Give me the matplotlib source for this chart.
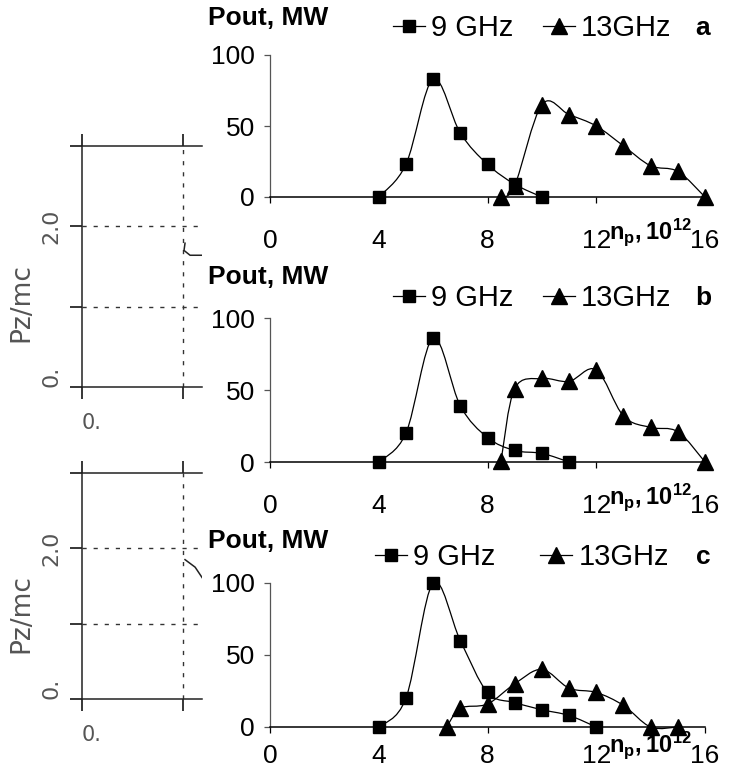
import numpy as np
import matplotlib.pyplot as plt
from matplotlib.path import Path
from matplotlib.patches import PathPatch

plt.rcParams['font.family'] = ['Liberation Sans', 'DejaVu Sans']
plt.rcParams['mathtext.fontset'] = 'custom'
plt.rcParams['mathtext.bf'] = 'Liberation Sans:bold'
plt.rcParams['mathtext.rm'] = 'Liberation Sans'

# output power vs plasma density, three cases
x9_a = [4, 5, 6, 7, 8, 9, 10]
y9_a = [0, 23, 83, 45, 23, 9, 0]
x13_a = [8.5, 9, 10, 11, 12, 13, 14, 15, 16]
y13_a = [0, 8, 65, 58, 50, 36, 22, 18, 0]

x9_b = [4, 5, 6, 7, 8, 9, 10, 11]
y9_b = [0, 20, 86, 39, 17, 8, 6, 0]
x13_b = [8.5, 9, 10, 11, 12, 13, 14, 15, 16]
y13_b = [1, 51, 58, 56, 64, 32, 24, 21, 0]

x9_c = [4, 5, 6, 7, 8, 9, 10, 11, 12]
y9_c = [0, 20, 100, 60, 24, 17, 12, 8, 0]
x13_c = [6.5, 7, 8, 9, 10, 11, 12, 13, 14, 15]
y13_c = [0, 13, 16, 30, 40, 27, 24, 15, 0, 0]

xticks = [0, 4, 8, 12, 16]
yticks = [0, 50, 100]

# clipped bits of the neighbouring Pz/mc plot on the left
frag1_x = [1.02, 1.01, 1.07, 1.19]
frag1_y = [1.79, 1.70, 1.64, 1.64]
frag2_x = [1.02, 1.12, 1.19]
frag2_y = [1.85, 1.75, 1.61]


def smooth(x, y):
    # Excel-like smoothed line as bezier path through the points
    p = np.column_stack([x, y]).astype(float)
    n = len(p)
    verts = [p[0]]
    codes = [Path.MOVETO]
    for i in range(n - 1):
        p0 = p[max(i - 1, 0)]
        p1 = p[i]
        p2 = p[i + 1]
        p3 = p[min(i + 2, n - 1)]
        verts += [p1 + (p2 - p0) / 6, p2 - (p3 - p1) / 6, p2]
        codes += [Path.CURVE4] * 3
    return Path(verts, codes)


fig = plt.figure(figsize=(7.52, 7.76), dpi=100)

# left fragments
for bottom, height, fx, fy, lab_y in [(1 - 387 / 776, 241 / 776, frag1_x, frag1_y, 0.35),
                                      (1 - 699 / 776, 226 / 776, frag2_x, frag2_y, 0.38)]:
    axl = fig.add_axes([82 / 752, bottom, 120 / 752, height])
    axl.set_xlim(0, 120 / 101)
    axl.set_ylim(0, 3)
    axl.spines['right'].set_visible(False)
    for s in ['left', 'top', 'bottom']:
        axl.spines[s].set_linewidth(1.1)
        axl.spines[s].set_color('#222222')
    axl.axhline(1, ls=(0, (3, 5)), lw=1, color='#333333')
    axl.axhline(2, ls=(0, (3, 5)), lw=1, color='#333333')
    axl.axvline(1, ls=(0, (3, 5)), lw=1, color='#333333')
    axl.plot(fx, fy, color='#222222', lw=1.1)
    axl.set_yticks([0, 1, 2, 3])
    axl.set_yticklabels(['0.', '', '2.0', ''], rotation=90,
                        fontsize=16, color='#555555', family='DejaVu Sans')
    for lab, va in zip(axl.get_yticklabels(), ['bottom', 'center', 'center', 'center']):
        lab.set_va(va)
    axl.set_xticks([0, 1])
    axl.set_xticklabels(['0.', ''], ha='left', fontsize=15, color='#555555',
                        family='DejaVu Sans')
    axl.tick_params(axis='y', direction='out', length=8.6, width=1.1, pad=6)
    axl.tick_params(axis='x', direction='out', length=8.6, width=1.1, pad=10,
                    top=True)
    axl.set_ylabel('Pz/mc', fontsize=19, color='#555555', family='DejaVu Sans',
                   labelpad=6)
    axl.yaxis.set_label_coords(-0.4, lab_y)

panels = [
    ('a', x9_a, y9_a, x13_a, y13_a, 1 - 197 / 776, 142 / 776, 19, 1.19, 0.283, 1.0, 1.26, -0.246),
    ('b', x9_b, y9_b, x13_b, y13_b, 1 - 462 / 776, 144 / 776, 19, 1.14, 0.283, 1.0, 1.285, -0.243),
    ('c', x9_c, y9_c, x13_c, y13_c, 1 - 727 / 776, 144 / 776, 8, 1.18, 0.241, 1.55, 1.29, -0.125),
]

for (letter, x9, y9, x13, y13, bottom, height, xpad, leg_y, leg_x, colsp,
     title_y, np_y) in panels:
    ax = fig.add_axes([270 / 752, bottom, 435 / 752, height])
    ax.set_xlim(0, 16)
    ax.set_ylim(0, 100)
    for s in ['top', 'right']:
        ax.spines[s].set_visible(False)
    ax.spines['left'].set_color('#555555')
    ax.spines['bottom'].set_color('black')
    ax.spines['left'].set_linewidth(0.9)
    ax.spines['bottom'].set_linewidth(1.1)

    ax.add_patch(PathPatch(smooth(x13, y13), fill=False, lw=0.9,
                           color='black', clip_on=False))
    ax.add_patch(PathPatch(smooth(x9, y9), fill=False, lw=0.9,
                           color='black', clip_on=False))
    ax.plot(x13, y13, ls='none', marker='^', ms=11, color='black',
            clip_on=False, zorder=3)
    ax.plot(x9, y9, ls='none', marker='s', ms=9, color='black',
            clip_on=False, zorder=4)

    ax.set_xticks(xticks)
    ax.set_yticks(yticks)
    ax.tick_params(axis='x', direction='out', length=4, width=0.9,
                   labelsize=19, pad=xpad)
    ax.tick_params(axis='y', direction='out', length=4, width=0.9,
                   labelsize=19, pad=7, color='#555555')

    h9, = ax.plot([], [], color='black', lw=0.9, marker='s', ms=9)
    h13, = ax.plot([], [], color='black', lw=0.9, marker='^', ms=11)
    ax.legend([h9, h13], ['9 GHz', '13GHz'], ncol=2, loc='center left',
              bbox_to_anchor=(leg_x, leg_y), frameon=False, fontsize=21,
              handlelength=1.1, handletextpad=0.2, columnspacing=colsp,
              borderpad=0, borderaxespad=0)

    ax.text(-0.1425, title_y, 'Pout, MW', transform=ax.transAxes,
            fontsize=19, fontweight='bold', ha='left', va='center')
    ax.text(0.995, leg_y, letter, transform=ax.transAxes, fontsize=19,
            fontweight='bold', ha='center', va='center')
    ax.text(0.779, np_y, r'$\mathbf{n_p,10^{12}}$', transform=ax.transAxes,
            fontsize=17, ha='left', va='center')

fig.savefig('out.png', dpi=100)
